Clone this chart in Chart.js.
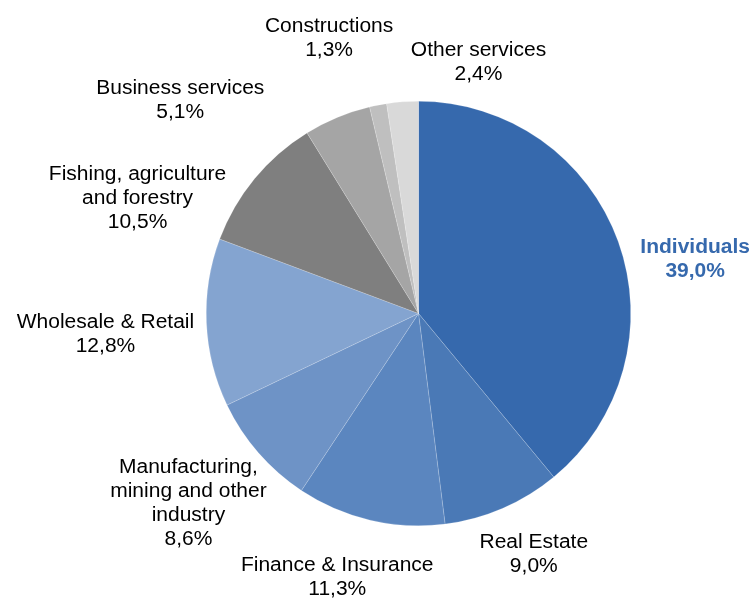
<!DOCTYPE html>
<html>
<head>
<meta charset="utf-8">
<script src="https://cdn.jsdelivr.net/npm/chart.js@4.4.1/dist/chart.umd.min.js"></script>
<style>
  html, body { margin: 0; padding: 0; background: #ffffff; }
  #wrap { width: 755px; height: 598px; }
</style>
</head>
<body>
<div id="wrap"><canvas id="sectorChart" width="755" height="598"></canvas></div>
<script>
// sectors, clockwise from 12 o'clock
const sectorNames = [
    ['Individuals'],
    ['Real Estate'],
    ['Finance & Insurance'],
    ['Manufacturing,', 'mining and other', 'industry'],
    ['Wholesale & Retail'],
    ['Fishing, agriculture', 'and forestry'],
    ['Business services'],
    ['Constructions'],
    ['Other services']
];
const sectorShares = [39.0, 9.0, 11.3, 8.6, 12.8, 10.5, 5.1, 1.3, 2.4];

const sliceColors = ['#3669ad', '#4a79b6', '#5b86bf', '#6e93c6', '#84a4d0', '#7f7f7f', '#a5a5a5', '#bfbfbf', '#d9d9d9'];

// where each label sits, as a shift from the slice's outer mid point
const labelShift = [[77, 18], [31, 46], [-33, 57], [-70, 51], [-101, 12], [-117, 20], [-157, -17], [-49, -67], [76, -39]];

function formatShare(v) {
    return v.toFixed(1).replace('.', ',') + '%';
}

const outsideLabels = {
    id: 'outsideLabels',
    afterDatasetsDraw(chart) {
        const ctx = chart.ctx;
        const meta = chart.getDatasetMeta(0);
        ctx.save();
        ctx.textAlign = 'center';
        ctx.textBaseline = 'middle';
        meta.data.forEach(function(arc, i) {
            const mid = (arc.startAngle + arc.endAngle) / 2;
            const x = arc.x + Math.cos(mid) * arc.outerRadius + labelShift[i][0];
            const y = arc.y + Math.sin(mid) * arc.outerRadius + labelShift[i][1];
            const lines = sectorNames[i].concat([formatShare(sectorShares[i])]);
            const lineHeight = 24;
            if (i === 0) {
                ctx.font = 'bold 20px "Liberation Sans", Arial, sans-serif';
                ctx.fillStyle = '#3669ad';
            } else {
                ctx.font = '20px "Liberation Sans", Arial, sans-serif';
                ctx.fillStyle = '#000000';
            }
            const top = y - (lines.length - 1) * lineHeight / 2;
            lines.forEach(function(line, k) {
                ctx.save();
                ctx.translate(x, top + k * lineHeight);
                ctx.scale(1.05, 1);
                ctx.fillText(line, 0, 0);
                ctx.restore();
            });
        });
        ctx.restore();
    }
};

new Chart(document.getElementById('sectorChart').getContext('2d'), {
    type: 'pie',
    data: {
        labels: sectorNames.map(function(n) { return n.join(' '); }),
        datasets: [{
            data: sectorShares,
            backgroundColor: sliceColors,
            borderColor: 'rgba(255,255,255,0.35)',
            borderWidth: 0.5
        }]
    },
    options: {
        responsive: false,
        animation: false,
        layout: { padding: { left: 206, right: 124, top: 101, bottom: 72 } },
        plugins: {
            legend: { display: false },
            tooltip: { enabled: false }
        }
    },
    plugins: [outsideLabels]
});
</script>
</body>
</html>
